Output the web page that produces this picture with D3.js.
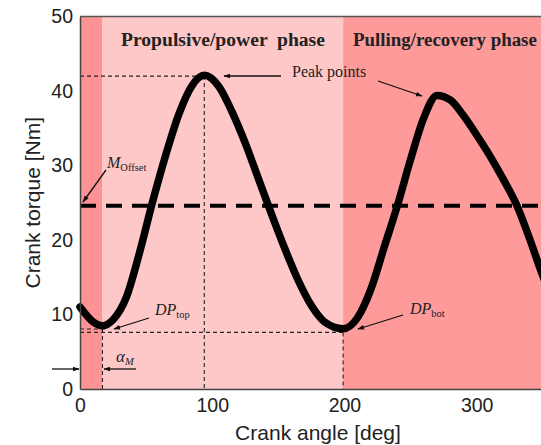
<!DOCTYPE html>
<html>
<head>
<meta charset="utf-8">
<script src="https://cdn.jsdelivr.net/npm/d3@7"></script>
<style>
  html, body { margin: 0; padding: 0; background: #fff; overflow: hidden; }
  svg { display: block; }
  .tick text { font-family: "Liberation Sans", Arial, sans-serif; font-size: 19.5px; fill: #222; }
  .serif { font-family: "Liberation Serif", "Times New Roman", serif; fill: #222; }
</style>
</head>
<body>
<svg id="chart" width="541" height="445"></svg>
<script>
// Crank torque over one pedal revolution
const angleDeg = [0, 10, 17, 25, 35, 45, 55, 65, 75, 85, 94, 105, 115, 125, 135, 145, 155, 165, 175, 185, 199, 210, 220, 230, 240, 250, 260, 270, 280, 290, 300, 310, 320, 330, 340, 350, 360];
const torqueNm = [11.0, 9.0, 8.5, 9.3, 12.3, 18.3, 25.2, 31.5, 37.0, 40.8, 42.1, 40.6, 37.2, 33.0, 28.2, 23.4, 18.8, 14.6, 11.2, 9.0, 8.1, 9.6, 13.4, 19.0, 24.6, 30.8, 36.4, 39.4, 38.8, 36.7, 34.1, 31.3, 28.2, 24.8, 20.2, 15.2, 11.0];

// Phases (crank angle ranges)
const phaseStart = [0, 17, 199];
const phaseEnd = [17, 199, 360];
const phaseColor = ["#fd9395", "#ffc8c8", "#fe9a9a"];

// Characteristic values
const offsetTorque = 24.6;
const peakAngle = 94, peakTorque = 42.0;
const dpTopAngle = 17, dpTopTorque = 8.05;
const dpBotAngle = 199, dpBotTorque = 7.6;

const xTicks = [0, 100, 200, 300];
const yTicks = [0, 10, 20, 30, 40, 50];

const svg = d3.select("#chart");
const plotLeft = 80, plotTop = 16.5, plotBottom = 389;
const x = d3.scaleLinear().domain([0, 360]).range([plotLeft, plotLeft + 476]);
const y = d3.scaleLinear().domain([0, 50]).range([plotBottom, plotTop]);

const defs = svg.append("defs");
defs.append("marker").attr("id", "head")
  .attr("viewBox", "0 0 10 10").attr("refX", 9).attr("refY", 5)
  .attr("markerWidth", 7).attr("markerHeight", 7).attr("orient", "auto-start-reverse")
  .attr("markerUnits", "userSpaceOnUse")
  .append("path").attr("d", "M0,1.5 L10,5 L0,8.5 Z").attr("fill", "#111");

// Phase bands
svg.append("g").selectAll("rect").data(phaseStart).join("rect")
  .attr("x", (d, i) => x(d)).attr("y", y(50))
  .attr("width", (d, i) => x(phaseEnd[i]) - x(d))
  .attr("height", y(0) - y(50))
  .attr("fill", (d, i) => phaseColor[i]);

// Thin reference lines
const thin = svg.append("g").attr("stroke", "#222").attr("stroke-width", 1.1)
  .attr("stroke-dasharray", "4,3").attr("fill", "none");
thin.append("line").attr("x1", x(0)).attr("x2", x(peakAngle)).attr("y1", y(peakTorque)).attr("y2", y(peakTorque));
thin.append("line").attr("x1", x(peakAngle)).attr("x2", x(peakAngle)).attr("y1", y(peakTorque)).attr("y2", y(0));
thin.append("line").attr("x1", x(0)).attr("x2", x(dpTopAngle + 3)).attr("y1", y(dpTopTorque)).attr("y2", y(dpTopTorque));
thin.append("line").attr("x1", x(dpTopAngle)).attr("x2", x(dpTopAngle)).attr("y1", y(dpTopTorque)).attr("y2", y(0));
thin.append("line").attr("x1", x(0)).attr("x2", x(dpBotAngle)).attr("y1", y(dpBotTorque)).attr("y2", y(dpBotTorque));
thin.append("line").attr("x1", x(dpBotAngle)).attr("x2", x(dpBotAngle)).attr("y1", y(dpBotTorque)).attr("y2", y(0));

// Offset line
svg.append("line")
  .attr("x1", x(0)).attr("x2", x(360)).attr("y1", y(offsetTorque)).attr("y2", y(offsetTorque))
  .attr("stroke", "#000").attr("stroke-width", 4).attr("stroke-dasharray", "16,10");

// Torque curve
const line = d3.line().x((d, i) => x(angleDeg[i])).y(d => y(d)).curve(d3.curveMonotoneX);
svg.append("path").datum(torqueNm).attr("d", line)
  .attr("fill", "none").attr("stroke", "#000").attr("stroke-width", 7.5)
  .attr("stroke-linejoin", "round").attr("stroke-linecap", "round");

// Frame and axes
svg.append("line").attr("x1", x(0)).attr("x2", x(360)).attr("y1", y(50)).attr("y2", y(50)).attr("stroke", "#555").attr("stroke-width", 1.5);
const xAxis = svg.append("g").attr("transform", `translate(0,${plotBottom})`)
  .call(d3.axisBottom(x).tickValues(xTicks).tickFormat(d3.format("d")).tickSize(0).tickPadding(9));
const yAxis = svg.append("g").attr("transform", `translate(${plotLeft},0)`)
  .call(d3.axisLeft(y).tickValues(yTicks).tickFormat(d3.format("d")).tickSize(0).tickPadding(7));
[xAxis, yAxis].forEach(a => a.select(".domain").attr("stroke", "#444").attr("stroke-width", 1.5));

svg.append("text").attr("x", (x(0) + x(360)) / 2).attr("y", 440).attr("text-anchor", "middle")
  .style("font-family", "Liberation Sans, Arial, sans-serif").style("font-size", "21px").attr("fill", "#222")
  .text("Crank angle [deg]");
svg.append("text").attr("transform", `translate(40,${(y(0) + y(50)) / 2}) rotate(-90)`).attr("text-anchor", "middle")
  .style("font-family", "Liberation Sans, Arial, sans-serif").style("font-size", "21px").attr("fill", "#222")
  .text("Crank torque [Nm]");

// Phase titles
svg.append("text").attr("class", "serif").attr("x", 121).attr("y", 46)
  .style("font-size", "19.6px").style("font-weight", "bold").style("white-space", "pre")
  .text("Propulsive/power  phase");
svg.append("text").attr("class", "serif").attr("x", 353).attr("y", 46)
  .style("font-size", "18.9px").style("font-weight", "bold")
  .text("Pulling/recovery phase");

// Annotations
svg.append("text").attr("class", "serif").attr("x", 292).attr("y", 77).style("font-size", "16px").text("Peak points");

function subLabel(px, py, main, sub) {
  const t = svg.append("text").attr("class", "serif").attr("x", px).attr("y", py).style("font-size", "16px");
  t.append("tspan").style("font-style", "italic").text(main);
  t.append("tspan").attr("dy", 3).style("font-size", "10.5px").text(sub);
}
subLabel(107, 168, "M", "Offset");
subLabel(155, 315, "DP", "top");
subLabel(410, 314, "DP", "bot");
const am = svg.append("text").attr("class", "serif").attr("x", 116).attr("y", 362).style("font-size", "17px");
am.append("tspan").style("font-style", "italic").text("α");
am.append("tspan").attr("dy", 3).style("font-size", "10.5px").style("font-style", "italic").text("M");

const arrows = [
  [281, 76, 224, 76],
  [378, 81, 422, 96],
  [106, 170, 83, 202],
  [149, 318, 114, 329],
  [403, 315, 358, 329],
  [52, 369, 79, 369],
  [136, 369, 104, 369]
];
svg.append("g").selectAll("line").data(arrows).join("line")
  .attr("x1", d => d[0]).attr("y1", d => d[1]).attr("x2", d => d[2]).attr("y2", d => d[3])
  .attr("stroke", "#111").attr("stroke-width", 1.3).attr("marker-end", "url(#head)");
</script>
</body>
</html>
